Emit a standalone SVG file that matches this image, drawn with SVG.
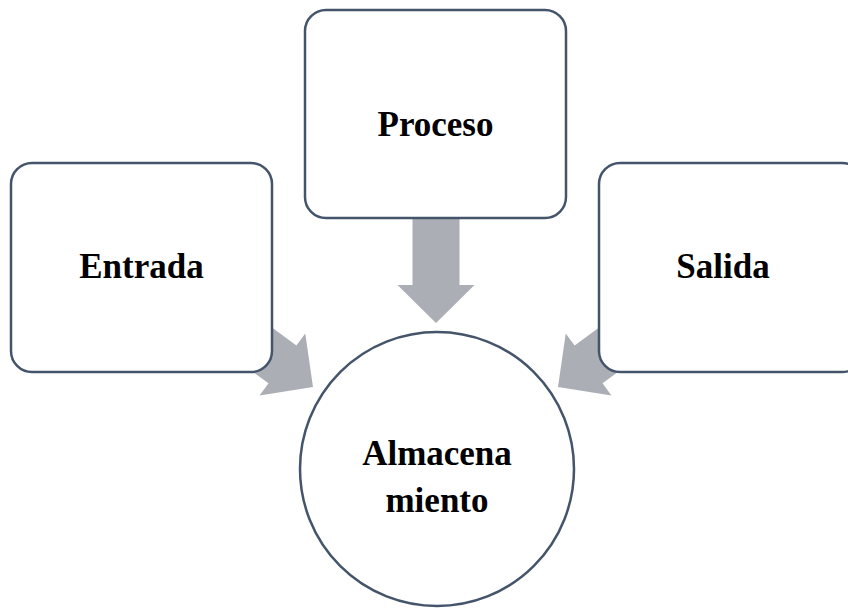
<svg xmlns="http://www.w3.org/2000/svg" width="848" height="610" viewBox="0 0 848 610">
  <style>
    .box { fill: #FFFFFF; stroke: #44546A; stroke-width: 2.5; }
    .arrow { fill: #ABAEB5; stroke: none; }
    .label { font-family: "Liberation Serif", "Times New Roman", serif; font-weight: bold; font-size: 35px; fill: #000000; text-anchor: middle; }
  </style>
  <defs>
    <polygon id="arrowShape" points="0,0 -38,-38.5 -38,-23.5 -110,-23.5 -110,23.5 -38,23.5 -38,38.5"/>
  </defs>
  <rect width="848" height="610" fill="#FFFFFF"/>
  <g id="connectors">
    <use href="#arrowShape" class="arrow" transform="translate(313,387) rotate(36.4)"/>
    <use href="#arrowShape" class="arrow" transform="translate(436,323) rotate(90)"/>
    <use href="#arrowShape" class="arrow" transform="translate(558,387) rotate(143.6)"/>
  </g>
  <g id="entrada">
    <rect class="box" x="11" y="163" width="261" height="209" rx="21" ry="21"/>
    <text class="label" x="141.5" y="278">Entrada</text>
  </g>
  <g id="proceso">
    <rect class="box" x="305" y="10" width="261" height="208" rx="21" ry="21"/>
    <text class="label" x="435.5" y="136">Proceso</text>
  </g>
  <g id="salida">
    <rect class="box" x="599" y="163" width="264" height="209" rx="21" ry="21"/>
    <text class="label" x="723" y="278">Salida</text>
  </g>
  <g id="almacenamiento">
    <circle class="box" cx="437" cy="469" r="137"/>
    <text class="label" x="437" y="465">Almacena</text>
    <text class="label" x="437" y="512">miento</text>
  </g>
</svg>
